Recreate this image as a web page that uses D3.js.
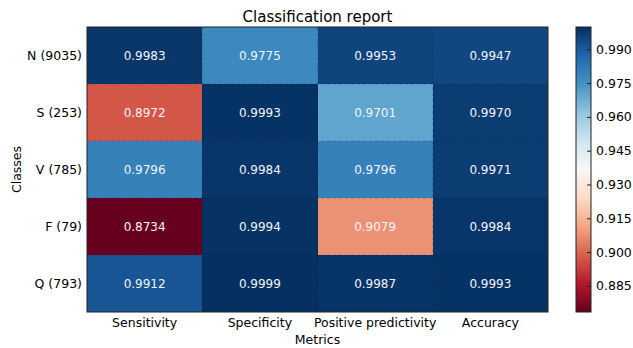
<!DOCTYPE html>
<html>
<head>
<meta charset="utf-8">
<script src="https://cdn.jsdelivr.net/npm/d3@7"></script>
<style>
  body { margin: 0; background: #fff; }
  text { font-family: "DejaVu Sans", sans-serif; }
</style>
</head>
<body>
<script>
var classes = ["N (9035)", "S (253)", "V (785)", "F (79)", "Q (793)"],
	metrics = ["Sensitivity", "Specificity", "Positive predictivity", "Accuracy"],
	sensitivity = [0.9983, 0.8972, 0.9796, 0.8734, 0.9912],
	specificity = [0.9775, 0.9993, 0.9984, 0.9994, 0.9999],
	predictivity = [0.9953, 0.9701, 0.9796, 0.9079, 0.9987],
	accuracy = [0.9947, 0.9970, 0.9971, 0.9984, 0.9993],
	cbTicks = [0.885, 0.900, 0.915, 0.930, 0.945, 0.960, 0.975, 0.990];

var width = 633, height = 348,
	lPad = 87, rPad = 85, tPad = 27, bPad = 36,
	cbX = 576, cbW = 15;

var columns = [sensitivity, specificity, predictivity, accuracy];
var cells = [];
columns.forEach(function(col, j) {
	col.forEach(function(v, i) {
		cells.push({row: classes[i], col: metrics[j], v: v});
	});
});

var vmin = d3.min(cells, function(d) { return d.v; }),
	vmax = d3.max(cells, function(d) { return d.v; });

// matplotlib RdBu = linear steps between the 11 brewer colours
var rdbu = d3.schemeRdBu[11];
var color = d3.scaleLinear()
	.domain(d3.range(11).map(function(k) { return vmin + (vmax - vmin) * k / 10; }))
	.range(rdbu)
	.interpolate(d3.interpolateRgb);

var xScale = d3.scaleBand().domain(metrics).range([lPad, width - rPad]);
var yScale = d3.scaleBand().domain(classes).range([tPad, height - bPad]);

var svg = d3.select("body").append("svg")
	.attr("width", width)
	.attr("height", height);

svg.append("g").selectAll("rect")
	.data(cells)
	.enter().append("rect")
	.attr("x", function(d) { return xScale(d.col); })
	.attr("y", function(d) { return yScale(d.row); })
	.attr("width", xScale.bandwidth())
	.attr("height", yScale.bandwidth())
	.attr("fill", function(d) { return color(d.v); })
	.attr("shape-rendering", "crispEdges");

// faint dashed grid on cell borders
var grid = svg.append("g")
	.attr("stroke", "#000")
	.attr("stroke-opacity", 0.18)
	.attr("stroke-dasharray", "3,3");
metrics.slice(1).forEach(function(m) {
	grid.append("line")
		.attr("x1", xScale(m)).attr("x2", xScale(m))
		.attr("y1", tPad).attr("y2", height - bPad);
});
classes.slice(1).forEach(function(c) {
	grid.append("line")
		.attr("x1", lPad).attr("x2", width - rPad)
		.attr("y1", yScale(c)).attr("y2", yScale(c));
});

svg.append("g").selectAll("text")
	.data(cells)
	.enter().append("text")
	.attr("x", function(d) { return xScale(d.col) + xScale.bandwidth() / 2; })
	.attr("y", function(d) { return yScale(d.row) + yScale.bandwidth() / 2; })
	.attr("dy", "0.35em")
	.attr("text-anchor", "middle")
	.attr("fill", "#f2f4f8")
	.style("font-size", "12px")
	.text(function(d) { return d.v.toFixed(4); });

svg.append("rect")
	.attr("x", lPad).attr("y", tPad)
	.attr("width", width - rPad - lPad)
	.attr("height", height - bPad - tPad)
	.attr("fill", "none")
	.attr("stroke", "#222")
	.attr("stroke-width", 1);

var xAxis = svg.append("g")
	.attr("transform", "translate(0," + (height - bPad) + ")")
	.call(d3.axisBottom(xScale).tickSize(0).tickPadding(6));
var yAxis = svg.append("g")
	.attr("transform", "translate(" + lPad + ",0)")
	.call(d3.axisLeft(yScale).tickSize(0).tickPadding(5));
[xAxis, yAxis].forEach(function(a) {
	a.select(".domain").remove();
	a.selectAll("text").style("font-size", "12.5px").attr("fill", "#000");
});

svg.append("text")
	.attr("x", (lPad + width - rPad) / 2)
	.attr("y", 22)
	.attr("text-anchor", "middle")
	.style("font-size", "15px")
	.text("Classification report");

svg.append("text")
	.attr("x", (lPad + width - rPad) / 2)
	.attr("y", 344)
	.attr("text-anchor", "middle")
	.style("font-size", "12.5px")
	.text("Metrics");

svg.append("text")
	.attr("transform", "translate(21," + (tPad + height - bPad) / 2 + ") rotate(-90)")
	.attr("text-anchor", "middle")
	.style("font-size", "12.5px")
	.text("Classes");

// colorbar
var cbScale = d3.scaleLinear().domain([vmin, vmax]).range([height - bPad, tPad]);
var grad = svg.append("defs").append("linearGradient")
	.attr("id", "cb")
	.attr("x1", 0).attr("y1", 1).attr("x2", 0).attr("y2", 0);
rdbu.forEach(function(c, k) {
	grad.append("stop").attr("offset", (k / 10 * 100) + "%").attr("stop-color", c);
});
svg.append("rect")
	.attr("x", cbX).attr("y", tPad)
	.attr("width", cbW).attr("height", height - bPad - tPad)
	.attr("fill", "url(#cb)")
	.attr("stroke", "#222")
	.attr("stroke-width", 1);
var cbAxis = svg.append("g")
	.attr("transform", "translate(" + (cbX + cbW) + ",0)")
	.call(d3.axisRight(cbScale).tickValues(cbTicks).tickFormat(d3.format(".3f")).tickSizeInner(-4).tickSizeOuter(0).tickPadding(5));
cbAxis.select(".domain").remove();
cbAxis.selectAll("line").attr("stroke", "#222");
cbAxis.selectAll("text").style("font-size", "12.5px").attr("fill", "#000");
</script>
</body>
</html>
